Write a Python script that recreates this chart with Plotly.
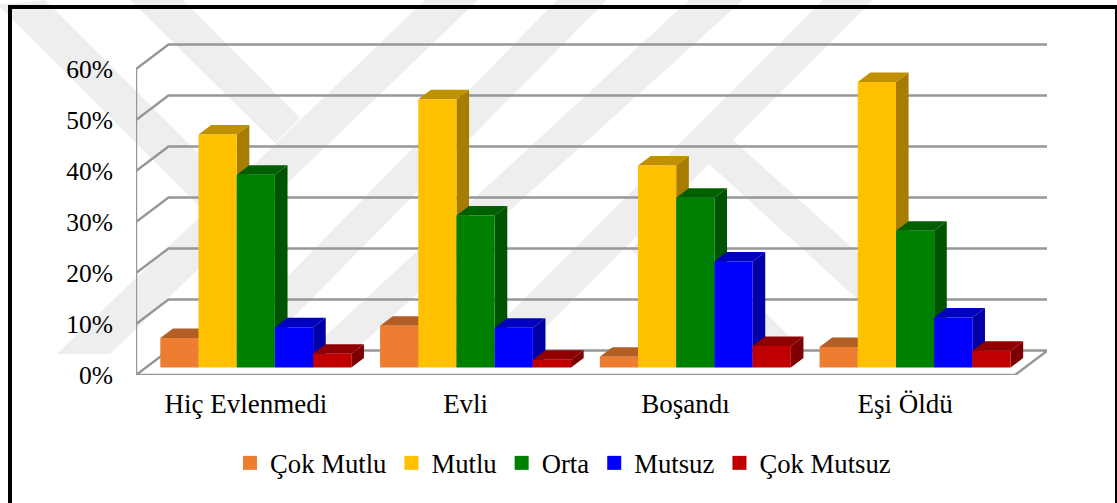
import plotly.graph_objects as go

categories = ["Hiç Evlenmedi", "Evli", "Boşandı", "Eşi Öldü"]
series_names = ["Çok Mutlu", "Mutlu", "Orta", "Mutsuz", "Çok Mutsuz"]
cok_mutlu = [5.8, 8.2, 2.1, 4.0]
mutlu = [45.7, 52.6, 39.6, 56.0]
orta = [37.8, 29.8, 33.3, 26.8]
mutsuz = [7.9, 7.8, 20.8, 9.8]
cok_mutsuz = [2.7, 1.5, 4.2, 3.3]
y_ticks = [0, 10, 20, 30, 40, 50, 60]

all_series = [cok_mutlu, mutlu, orta, mutsuz, cok_mutsuz]
colors = [(237, 125, 49), (255, 192, 0), (0, 128, 0), (0, 0, 255), (192, 0, 0)]

W, H = 1117, 503
ML, MR, MT, MB = 136, 70, 20, 128
PX_PER_CAT = 219.75
PX_PER_PCT = 5.1
XMIN, XMAX = -0.5, -0.5 + (W - ML - MR) / PX_PER_CAT
YMIN, YMAX = 0, (H - MT - MB) / PX_PER_PCT
DEPTH_X = 32.5 / PX_PER_CAT
DEPTH_Y = 24.5 / PX_PER_PCT
BAR_FRONT, BAR_BACK = 0.306, 0.694
BAR_W = 38.2 / PX_PER_CAT
GRID = "#979797"
FONT = "Liberation Serif"


def shade(c, f):
    return "rgb(%d,%d,%d)" % tuple(round(v * f) for v in c)


def project(x, v, d):
    return x + d * DEPTH_X, v + d * DEPTH_Y


def px(x, y):
    return (x - ML) / (W - ML - MR), 1 - (y - MT) / (H - MT - MB)


def poly(points):
    path = ""
    for i, (x, y) in enumerate(points):
        u, v = px(x, y)
        path += ("M" if i == 0 else "L") + f"{u:.5f},{v:.5f} "
    return dict(type="path", path=path + "Z", xref="paper", yref="paper",
                fillcolor="#eeeeee", line=dict(width=0), layer="below")


watermark = [
    [(-2, 5), (45, 0), (231, 186), (205.5, 212.5)],
    [(130, 0), (183, 0), (300, 118), (275, 143)],
    [(57, 354), (110, 354), (478, 0), (425, 0)],
    [(557, 0), (607, 0), (256, 355), (211, 355)],
    [(689, 0), (743, 0), (355, 350), (310, 350)],
    [(823, 0), (873, 0), (523, 350), (473, 350)],
    [(733, 140), (708, 163), (900, 338), (900, 291)],
    [(666, 214), (800, 347), (760, 350), (630, 250)],
]
shapes = [poly(p) for p in watermark]
x0, y0 = px(10, 7)
x1, y1 = px(1117, 505)
shapes.append(dict(type="rect", xref="paper", yref="paper", x0=x0, y0=y0, x1=x1, y1=y1,
                   line=dict(color="black", width=4), fillcolor="rgba(0,0,0,0)", layer="above"))

fig = go.Figure()


def add_poly(xs, ys, color):
    fig.add_trace(go.Scatter(x=xs, y=ys, mode="lines", fill="toself", fillcolor=color,
                             line=dict(width=0, color=color), hoverinfo="skip",
                             showlegend=False, cliponaxis=False))


def add_line(xs, ys):
    fig.add_trace(go.Scatter(x=xs, y=ys, mode="lines", line=dict(color=GRID, width=2.4),
                             hoverinfo="skip", showlegend=False, cliponaxis=False))


# floor
left, right = -0.5, 3.5
fx = [left, right, right + DEPTH_X, left + DEPTH_X, left]
fy = [0, 0, DEPTH_Y, DEPTH_Y, 0]
add_poly(fx, fy, "white")
add_line(fx, fy)
# wall lines
for t in y_ticks[1:]:
    add_line([left, left + DEPTH_X, right + DEPTH_X], [t, t + DEPTH_Y, t + DEPTH_Y])
add_line([left, left], [0, 60])

# bars, painted left to right so each front hides its neighbour's side
for s, (vals, col) in enumerate(zip(all_series, colors)):
    side_x, side_y, top_x, top_y, fr_x, fr_y = [], [], [], [], [], []
    for g, v in enumerate(vals):
        a = g + (s - 2.5) * BAR_W
        b = a + BAR_W
        pts = {
            "fbl": project(a, 0, BAR_FRONT), "fbr": project(b, 0, BAR_FRONT),
            "ftl": project(a, v, BAR_FRONT), "ftr": project(b, v, BAR_FRONT),
            "bbr": project(b, 0, BAR_BACK), "btr": project(b, v, BAR_BACK),
            "btl": project(a, v, BAR_BACK),
        }
        for key_list, xs, ys in [
            (["fbr", "ftr", "btr", "bbr", "fbr"], side_x, side_y),
            (["ftl", "ftr", "btr", "btl", "ftl"], top_x, top_y),
            (["fbl", "fbr", "ftr", "ftl", "fbl"], fr_x, fr_y),
        ]:
            xs.extend([pts[k][0] for k in key_list] + [None])
            ys.extend([pts[k][1] for k in key_list] + [None])
    add_poly(side_x, side_y, shade(col, 0.65))
    add_poly(top_x, top_y, shade(col, 0.75))
    add_poly(fr_x, fr_y, shade(col, 1))

# legend entries
for name, col in zip(series_names, colors):
    fig.add_trace(go.Scatter(x=[None], y=[None], mode="markers", name=name,
                             marker=dict(symbol="square", size=14, color=shade(col, 1))))

fig.update_layout(
    width=W, height=H, autosize=False,
    margin=dict(l=ML, r=MR, t=MT, b=MB, autoexpand=False),
    paper_bgcolor="white", plot_bgcolor="rgba(0,0,0,0)",
    font=dict(family=FONT, size=25.5, color="black"),
    shapes=shapes, hovermode=False,
    xaxis=dict(range=[XMIN, XMAX], tickmode="array", tickvals=list(range(4)), ticktext=categories,
               showgrid=False, zeroline=False, showline=False, ticks="", ticklabelstandoff=10,
               tickfont=dict(family=FONT, size=27, color="black")),
    yaxis=dict(range=[YMIN, YMAX], tickmode="array", tickvals=y_ticks,
               ticktext=[f"{t}%" for t in y_ticks],
               showgrid=False, zeroline=False, showline=False, ticks="", ticklabelstandoff=22,
               tickfont=dict(family=FONT, size=25.5, color="black")),
    legend=dict(orientation="h", xref="container", yref="container", x=230 / W, y=1 - 463 / H,
                xanchor="left", yanchor="middle", itemwidth=30, itemclick=False,
                bgcolor="rgba(0,0,0,0)", font=dict(family=FONT, size=26.7, color="black")),
)

fig.write_html("out.html", config=dict(displayModeBar=False),
               post_script="document.body.style.margin='0';")
